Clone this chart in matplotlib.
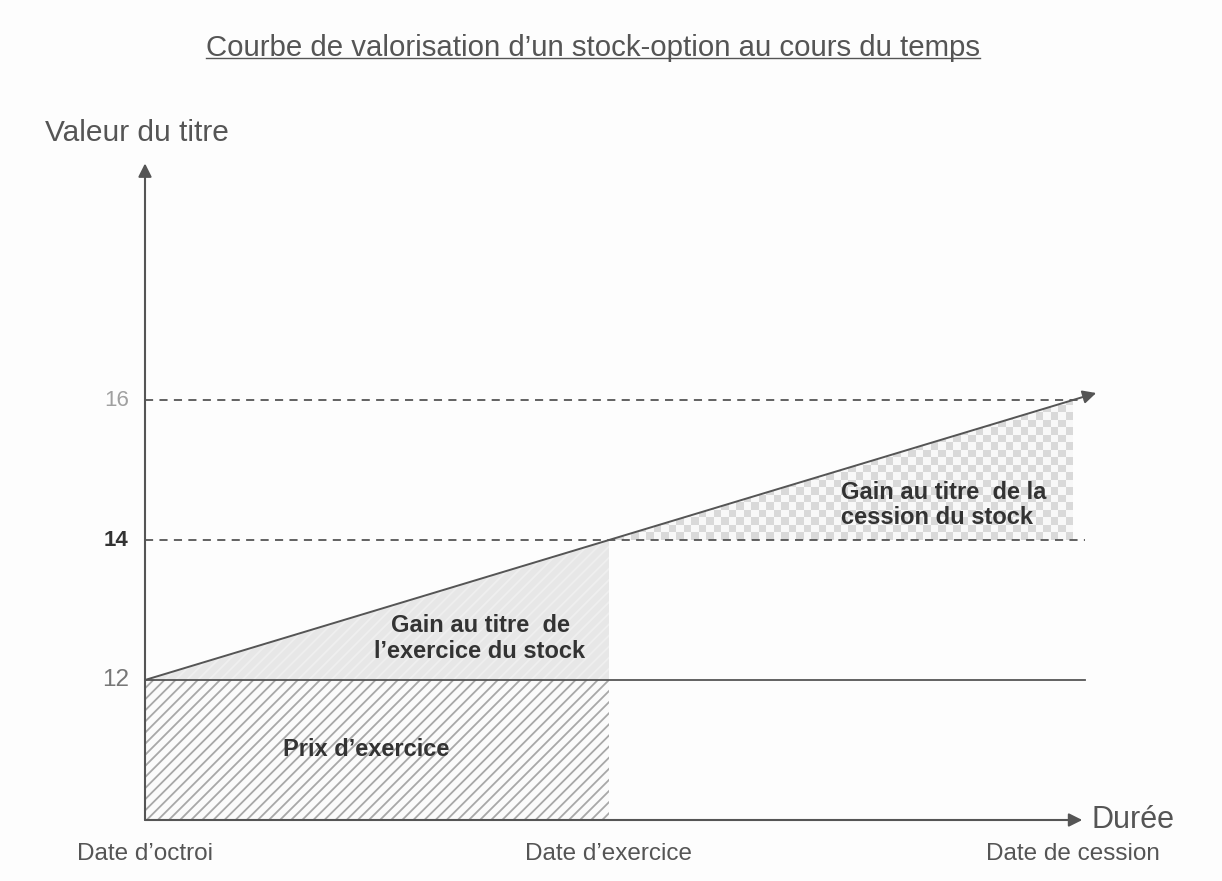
import numpy as np
import matplotlib
matplotlib.use("Agg")
import matplotlib.pyplot as plt
from matplotlib.lines import Line2D
from matplotlib.patches import Polygon

plt.rcParams['font.family'] = ['Liberation Sans', 'DejaVu Sans']
plt.rcParams['hatch.linewidth'] = 1.3

# --- data -------------------------------------------------------------
date_labels = ["Date d\u2019octroi", "Date d\u2019exercice", "Date de cession"]
date_pos = [0, 1, 2]
stock_value = [12, 14, 16]          # value of the share at each date
strike_price = 12                   # exercise price
value_ticks = [12, 14, 16]
base_value = 10                     # where the time axis sits

title = "Courbe de valorisation d\u2019un stock-option au cours du temps"
y_label = "Valeur du titre"
x_label = "Dur\u00e9e"
label_prix = "Prix d\u2019exercice"
label_exercice = "Gain au titre  de\nl\u2019exercice du stock"
label_cession = "Gain au titre  de la\ncession du stock"

# --- figure -----------------------------------------------------------
W, H = 1222, 881
fig = plt.figure(figsize=(W / 100, H / 100), dpi=100)
fig.patch.set_facecolor('#fdfdfd')
ax = fig.add_axes([0, 0, 1, 1])
ax.axis('off')
ax.set_facecolor('none')

# scale: 464 px per date step, 70 px per value unit
px_x, px_y = 464.0, 70.0
x0_px, y12_px = 145.0, 680.0
ax.set_xlim(-x0_px / px_x, (W - x0_px) / px_x)
ax.set_ylim(12 - (H - y12_px) / px_y, 12 + y12_px / px_y)

dark = '#555555'
x_end = 2.025

# exercise price block (hatched)
ax.fill_between([date_pos[0], date_pos[1]], base_value, strike_price,
                facecolor='#fbfbfb', edgecolor='#a8a8a8', hatch='///', linewidth=0, zorder=1)

# gain at exercise: triangle between strike and value line
ax.fill_between(date_pos[:2], strike_price, stock_value[:2],
                facecolor='#e7e7e7', edgecolor='#efefef', hatch='///', linewidth=0, zorder=1)

# gain at sale: checker pattern between value at exercise and value line
n_cols, n_rows = 62, 19
ii, jj = np.indices((n_rows, n_cols))
checker = ((ii + jj) % 2).astype(float)
im = ax.imshow(checker, cmap=matplotlib.colors.ListedColormap(['#f8f8f8', '#d9d9d9']),
               extent=[date_pos[1], date_pos[2], stock_value[1], stock_value[1] + n_rows * 7.5 / px_y],
               origin='lower', interpolation='nearest', aspect='auto', zorder=1)
tri = Polygon([[date_pos[1], stock_value[1]], [date_pos[2], stock_value[2]],
               [date_pos[2], stock_value[1]]], closed=True, transform=ax.transData)
im.set_clip_path(tri)

# horizontal reference lines
ax.plot([0, x_end], [strike_price, strike_price], color=dark, lw=1.3, zorder=2)
for v in value_ticks[1:]:
    ax.plot([0, x_end], [v, v], color=dark, lw=1.3, ls=(0, (4.5, 3.5)), zorder=2)

# value line with arrow head
slope = (stock_value[2] - stock_value[0]) / (date_pos[2] - date_pos[0])
tip_x = 2.05
ax.annotate('', xy=(tip_x, stock_value[0] + slope * tip_x), xytext=(date_pos[0], stock_value[0]),
            arrowprops=dict(arrowstyle='-|>', color=dark, lw=1.4, mutation_scale=20,
                            shrinkA=0, shrinkB=0), zorder=3)

# axes with arrow heads
ax.annotate('', xy=(0, 19.38), xytext=(0, base_value),
            arrowprops=dict(arrowstyle='-|>', color=dark, lw=1.5, mutation_scale=20,
                            shrinkA=0, shrinkB=0), zorder=3)
ax.annotate('', xy=(2.02, base_value), xytext=(0, base_value),
            arrowprops=dict(arrowstyle='-|>', color=dark, lw=1.5, mutation_scale=20,
                            shrinkA=0, shrinkB=0), zorder=3)

# value tick labels
tick_styles = {12: dict(color='#777777', weight='normal', size=17.5),
               14: dict(color='#333333', weight='bold', size=16),
               16: dict(color='#a0a0a0', weight='normal', size=16)}
for v in value_ticks:
    ax.text(-0.035, v, str(v), ha='right', va='center', **tick_styles[v])

# date labels
for p, lab in zip(date_pos, date_labels):
    ax.text(p, base_value - 0.49, lab, ha='center', va='center', fontsize=17.5, color=dark)

# axis titles
ax.text(-0.215, 19.81, y_label, ha='left', va='center', fontsize=21.5, color=dark)
ax.text(2.04, base_value, x_label, ha='left', va='center', fontsize=22, color=dark)

# region labels
ax.text(0.477, 11.0, label_prix, ha='center', va='center', fontsize=17,
        weight='bold', color='#333333', zorder=4)
ax.text(0.722, 12.59, label_exercice, ha='center', va='center', fontsize=17,
        weight='bold', color='#333333', linespacing=1.2, multialignment='center', zorder=4)
ax.text(1.50, 14.5, label_cession, ha='left', va='center', fontsize=17,
        weight='bold', color='#333333', linespacing=1.1, zorder=4)

# underlined title
t = fig.text(593 / W, 1 - 48 / H, title, ha='center', va='center', fontsize=21.2, color=dark)
fig.canvas.draw()
bb = t.get_window_extent(fig.canvas.get_renderer())
uy = (bb.y0 + 4) / H
fig.add_artist(Line2D([bb.x0 / W, bb.x1 / W], [uy, uy], color=dark, lw=1.0))

fig.savefig('out.png', dpi=100, facecolor=fig.get_facecolor())
